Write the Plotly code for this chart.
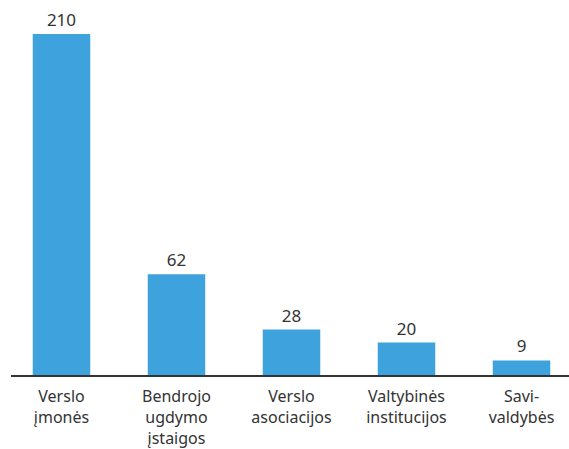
import plotly.graph_objects as go

categories = ["Verslo<br>įmonės", "Bendrojo<br>ugdymo<br>įstaigos", "Verslo<br>asociacijos",
              "Valtybinės<br>institucijos", "Savi-<br>valdybės"]
values = [210, 62, 28, 20, 9]

fig = go.Figure()
fig.add_trace(go.Bar(
    x=list(range(len(categories))), y=values,
    width=0.5, marker=dict(color="#3ea2dd", line=dict(width=0)),
    text=[str(v) for v in values], textposition="outside", cliponaxis=False,
    textfont=dict(size=17, color="#333333"),
))

fig.update_layout(
    width=569, height=449,
    margin=dict(l=11, r=0, t=20, b=74),
    paper_bgcolor="white", plot_bgcolor="white",
    font=dict(family="Noto Sans, Open Sans, sans-serif", size=16, color="#333333"),
    showlegend=False,
    xaxis=dict(tickmode="array", tickvals=list(range(len(categories))), ticktext=categories,
               range=[-0.439, 4.413], showline=True, linecolor="#333333", linewidth=1.5,
               showgrid=False, zeroline=False, ticks="", ticklabelstandoff=6,
               tickfont=dict(size=16, color="#333333")),
    yaxis=dict(range=[0, 218.6], visible=False, showgrid=False, zeroline=False),
)

# kill the browser's default body margin so the figure sits at 0,0
fig.write_html("out.html", config={"displayModeBar": False},
               post_script="document.body.style.margin='0';")
